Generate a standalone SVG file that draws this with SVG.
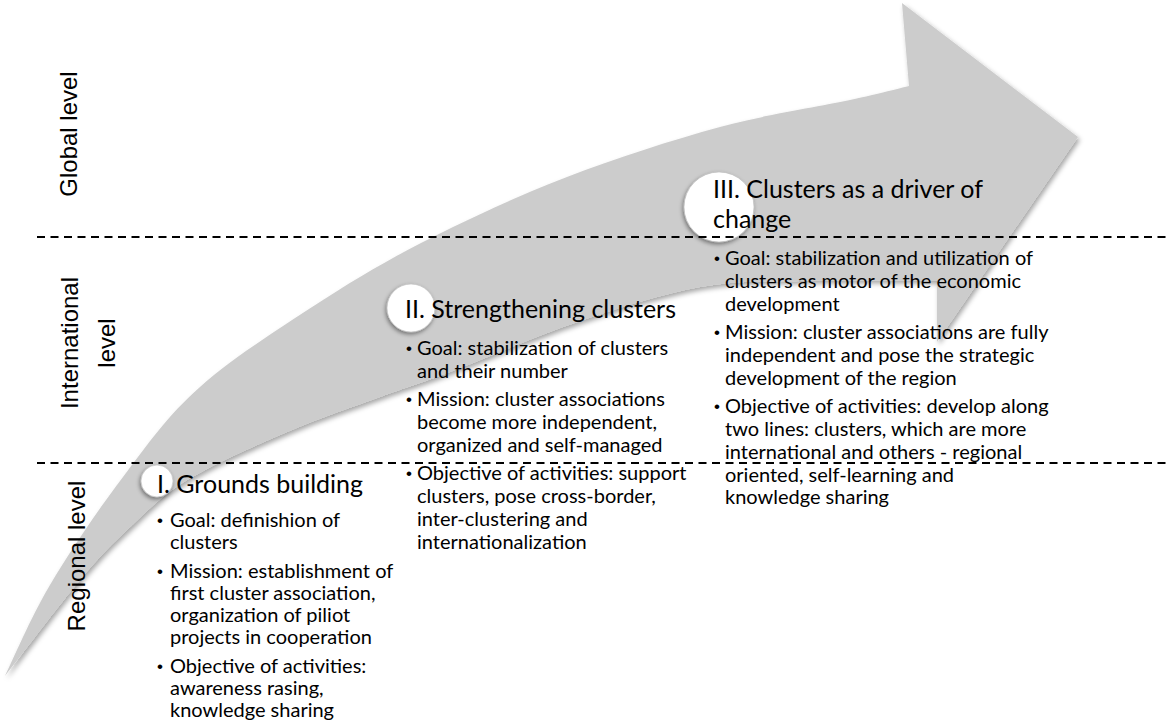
<svg xmlns="http://www.w3.org/2000/svg" width="1166" height="726" viewBox="0 0 1166 726">
<style>
.lvl{font-family:"Liberation Sans",Arial,sans-serif;font-size:24px;fill:#000;text-anchor:middle}
.ttl{font-family:Lato,"Open Sans",sans-serif;font-size:25px;fill:#000}
.bul{font-family:Lato,"Open Sans",sans-serif;font-size:20px;fill:#000}
.dot{font-family:"Liberation Sans",Arial,sans-serif;font-size:17px;fill:#000}
.dash{stroke:#000;stroke-width:1.8;stroke-dasharray:8 5.5;fill:none}
.circ{fill:#fff;stroke:#bbb;stroke-width:0.6;filter:url(#cs)}
</style>
<defs>
<filter id="as" x="-10%" y="-10%" width="120%" height="120%">
<feDropShadow dx="2" dy="3" stdDeviation="2.5" flood-color="#000" flood-opacity="0.35"/>
</filter>
<filter id="cs" x="-40%" y="-40%" width="180%" height="180%">
<feDropShadow dx="-1" dy="2" stdDeviation="2" flood-color="#000" flood-opacity="0.45"/>
</filter>
</defs>
<g id="arrow">
<path fill="#cccccc" filter="url(#as)" d="M5,676 C12.5,660.8 30.3,618.2 50,585 C69.7,551.8 98,510 123,477 C148,444 166.7,416.5 200,387 C233.3,357.5 284.2,325 323,300 C361.8,275 392.3,257.5 433,237 C473.7,216.5 519.2,195.3 567,177 C614.8,158.7 672.8,139.8 720,127 C767.2,114.2 818.5,106.8 850,100 C881.5,93.2 899.2,88.3 909,86 L902,3 L1078,137 L937,342 L937,281 C914.2,281 839.5,280 800,281 C760.5,282 736.7,280.3 700,287 C663.3,293.7 621.7,306.8 580,321 C538.3,335.2 483.3,359.3 450,372 C416.7,384.7 407.2,387 380,397 C352.8,407 319.2,418.2 287,432 C254.8,445.8 213.7,463.7 187,480 C160.3,496.3 144.8,513.3 127,530 C109.2,546.7 100.3,555.7 80,580 C59.7,604.3 17.5,660 5,676 Z"/>
</g>
<g id="circles">
<circle id="c1" class="circ" cx="157" cy="481" r="16"/>
<circle id="c2" class="circ" cx="411" cy="308" r="24"/>
<circle id="c3" class="circ" cx="719" cy="207" r="35"/>
</g>
<g id="levels">
<line class="dash" x1="37" y1="237" x2="1166" y2="237"/>
<line class="dash" x1="37" y1="463" x2="1166" y2="463"/>
<text class="lvl" transform="translate(77,134) rotate(-90)">Global level</text>
<text class="lvl" transform="translate(78,343) rotate(-90)">International</text>
<text class="lvl" transform="translate(115,343) rotate(-90)">level</text>
<text class="lvl" transform="translate(85,556) rotate(-90)">Regional level</text>
</g>
<g id="stage1">
<text class="ttl" x="157" y="493">I. Grounds building</text>
<text class="dot"><tspan x="157" y="526">•</tspan><tspan x="157" y="577">•</tspan><tspan x="157" y="672">•</tspan></text>
<text class="bul"><tspan x="170" y="527">Goal: definishion of</tspan><tspan x="170" y="549">clusters</tspan>
<tspan x="170" y="578">Mission: establishment of</tspan><tspan x="170" y="600">first cluster association,</tspan><tspan x="170" y="622">organization of piliot</tspan><tspan x="170" y="644">projects in cooperation</tspan>
<tspan x="170" y="673">Objective of activities:</tspan><tspan x="170" y="695">awareness rasing,</tspan><tspan x="170" y="717">knowledge sharing</tspan></text>
</g>
<g id="stage2">
<text class="ttl" x="405" y="318">II. Strengthening clusters</text>
<text class="dot"><tspan x="406" y="354">•</tspan><tspan x="406" y="405">•</tspan><tspan x="406" y="479">•</tspan></text>
<text class="bul"><tspan x="417" y="355">Goal: stabilization of clusters</tspan><tspan x="417" y="378">and their number</tspan>
<tspan x="417" y="406">Mission: cluster associations</tspan><tspan x="417" y="429">become more independent,</tspan><tspan x="417" y="452">organized and self-managed</tspan>
<tspan x="417" y="480">Objective of activities: support</tspan><tspan x="417" y="503">clusters, pose cross-border,</tspan><tspan x="417" y="526">inter-clustering and</tspan><tspan x="417" y="549">internationalization</tspan></text>
</g>
<g id="stage3">
<text class="ttl"><tspan x="713" y="198">III. Clusters as a driver of</tspan><tspan x="713" y="228">change</tspan></text>
<text class="dot"><tspan x="714" y="264">•</tspan><tspan x="714" y="338">•</tspan><tspan x="714" y="412">•</tspan></text>
<text class="bul"><tspan x="725" y="265">Goal: stabilization and utilization of</tspan><tspan x="725" y="288">clusters as motor of the economic</tspan><tspan x="725" y="311">development</tspan>
<tspan x="725" y="339">Mission: cluster associations are fully</tspan><tspan x="725" y="362">independent and pose the strategic</tspan><tspan x="725" y="385">development of the region</tspan>
<tspan x="725" y="413">Objective of activities: develop along</tspan><tspan x="725" y="436">two lines: clusters, which are more</tspan><tspan x="725" y="459">international and others - regional</tspan><tspan x="725" y="482">oriented, self-learning and</tspan><tspan x="725" y="504">knowledge sharing</tspan></text>
</g>
</svg>
